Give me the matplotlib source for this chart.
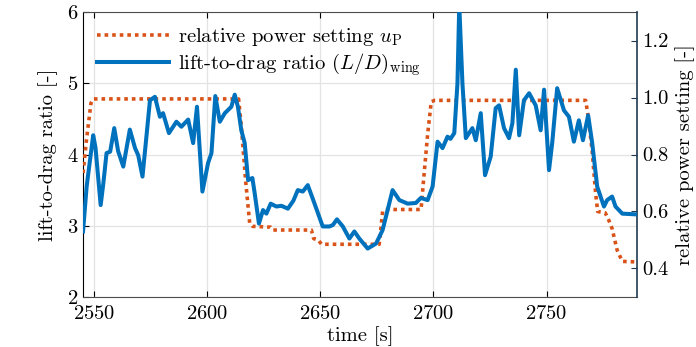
"""Lift-to-drag ratio of the wing against the relative power setting over time."""

import matplotlib

matplotlib.use("Agg")
import matplotlib.pyplot as plt

plt.rcParams["font.family"] = ["cmr10", "DejaVu Serif"]
plt.rcParams["mathtext.fontset"] = "cm"
plt.rcParams["axes.formatter.use_mathtext"] = True

BLUE = "#0072BD"
ORANGE = "#D95319"
FS = 14.8

# lift-to-drag ratio (left axis)
time_ld = [
    2545.0, 2546.6, 2548.0, 2549.5, 2550.5, 2552.8, 2554.0, 2555.4, 2557.0, 2558.8,
    2560.5, 2562.8, 2565.7, 2568.0, 2569.4, 2571.3, 2574.6, 2576.8, 2579.0, 2580.4,
    2583.0, 2586.3, 2588.5, 2591.5, 2593.7, 2595.4, 2597.8, 2600.3, 2601.8, 2603.5,
    2605.5, 2607.7, 2610.6, 2612.1, 2613.5, 2615.0, 2616.5, 2618.0, 2619.9, 2620.9,
    2622.8, 2624.6, 2626.1, 2628.0, 2630.5, 2632.7, 2635.6, 2638.0, 2640.0, 2642.2,
    2644.4, 2647.4, 2651.0, 2654.0, 2655.5, 2657.3, 2659.9, 2662.8, 2665.0, 2667.2,
    2670.9, 2674.6, 2677.5, 2679.7, 2681.9, 2684.9, 2688.6, 2692.2, 2694.4, 2697.4,
    2699.6, 2701.8, 2704.0, 2706.2, 2707.5, 2709.2, 2710.6, 2711.4, 2712.8, 2714.3,
    2717.2, 2718.7, 2720.9, 2722.8, 2725.3, 2727.5, 2729.0, 2731.2, 2733.4, 2734.9,
    2736.4, 2737.9, 2740.0, 2742.3, 2745.2, 2747.4, 2748.9, 2751.1, 2752.5, 2754.7,
    2757.7, 2759.9, 2762.1, 2764.3, 2766.1, 2768.4, 2770.2, 2772.4, 2775.4, 2776.8,
    2779.0, 2780.5, 2783.5, 2789.4, 2790.0,
]
lift_to_drag = [
    2.92, 3.55, 3.90, 4.27, 4.10, 3.29, 3.60, 4.02, 4.04, 4.37,
    4.05, 3.83, 4.35, 4.09, 3.99, 3.69, 4.76, 4.81, 4.53, 4.58,
    4.30, 4.46, 4.39, 4.49, 4.16, 4.67, 3.48, 3.88, 4.02, 4.82,
    4.46, 4.58, 4.67, 4.84, 4.67, 4.34, 4.16, 3.64, 3.67, 3.46,
    3.03, 3.22, 3.17, 3.31, 3.27, 3.28, 3.24, 3.35, 3.50, 3.48,
    3.57, 3.31, 2.99, 2.99, 3.01, 3.09, 2.99, 2.82, 2.92, 2.82,
    2.68, 2.75, 2.94, 3.22, 3.50, 3.36, 3.31, 3.32, 3.39, 3.36,
    3.55, 4.18, 4.09, 4.25, 4.22, 4.30, 5.00, 6.10, 5.00, 4.23,
    4.37, 4.20, 4.58, 3.71, 3.97, 4.65, 4.69, 4.37, 4.23, 4.44,
    5.19, 4.27, 4.76, 4.86, 4.69, 4.34, 4.91, 3.78, 4.16, 4.93,
    4.62, 4.53, 4.18, 4.48, 4.20, 4.55, 4.16, 3.55, 3.27, 3.36,
    3.41, 3.27, 3.17, 3.16, 3.16,
]

# relative power setting (right axis)
time_up = [
    2545.0, 2546.5, 2548.5, 2549.5, 2613.8, 2615.0, 2617.0, 2618.7, 2620.0, 2628.0,
    2629.0, 2646.0, 2647.0, 2649.0, 2650.5, 2676.0, 2677.5, 2678.5, 2694.5, 2695.5,
    2697.4, 2699.0, 2700.5, 2767.3, 2768.5, 2770.2, 2771.7, 2772.6, 2776.0, 2777.5,
    2779.0, 2781.2, 2783.5, 2790.0,
]
power_setting = [
    0.735, 0.85, 0.98, 0.995, 0.995, 0.90, 0.70, 0.56, 0.548, 0.545,
    0.535, 0.535, 0.505, 0.50, 0.485, 0.485, 0.60, 0.607, 0.607, 0.70,
    0.87, 0.985, 0.99, 0.99, 0.93, 0.81, 0.665, 0.60, 0.595, 0.57,
    0.54, 0.465, 0.425, 0.423,
]

x_ticks = [2550, 2600, 2650, 2700, 2750]
ld_ticks = [2, 3, 4, 5, 6]
up_ticks = [0.4, 0.6, 0.8, 1.0, 1.2]

fig = plt.figure(figsize=(6.96, 3.47), dpi=100)
ax = fig.add_axes([0.1193, 0.1441, 0.7959, 0.8213])
ax2 = ax.twinx()

ax.set_xlim(2545, 2790)
ax.set_ylim(2, 6)
ax2.set_ylim(0.3, 1.3)

# both curves live on the top axes so the grid of the left axes stays below them;
# the L/D curve keeps the left-axis scale through its transform
(up_line,) = ax2.plot(time_up, power_setting, color=ORANGE, lw=2.6,
                      linestyle=(0, (1.0, 1.1)), dash_capstyle="butt", zorder=2)
(ld_line,) = ax2.plot(time_ld, lift_to_drag, color=BLUE, lw=2.9,
                      solid_joinstyle="round", transform=ax.transData, zorder=3)
ax2.set_ylim(0.3, 1.3)

ax.set_xticks(x_ticks)
ax.set_yticks(ld_ticks)
ax2.set_yticks(up_ticks)
ax2.set_yticklabels([f"{v:.1f}" for v in up_ticks])

ax.grid(True, color="#e3e3e3", lw=0.9)
ax.set_axisbelow(True)

ax.tick_params(axis="both", direction="in", labelsize=FS, length=4,
               top=True, colors="black")
ax.tick_params(axis="x", pad=6)
ax2.tick_params(axis="y", direction="in", labelsize=FS, length=4,
                colors="#1f3a50", labelcolor="black")

ax.spines["left"].set_color("black")
ax.spines["bottom"].set_color("#4d4d4d")
ax.spines["top"].set_color("#4d4d4d")
ax.spines["right"].set_visible(False)
ax2.spines["right"].set_color("#1f3a50")
ax2.spines["right"].set_linewidth(1.2)
for side in ("left", "top", "bottom"):
    ax2.spines[side].set_visible(False)

ax.set_xlabel("time [s]", fontsize=FS, labelpad=2)
ax.set_ylabel("lift-to-drag ratio [-]", fontsize=FS, labelpad=6)
ax2.set_ylabel("relative power setting [-]", fontsize=FS, rotation=90,
               labelpad=5)

ax2.legend(
    [up_line, ld_line],
    [r"relative power setting $u_\mathrm{P}$",
     r"lift-to-drag ratio $(L/D)_\mathrm{wing}$"],
    loc="upper left",
    bbox_to_anchor=(0.0, 1.0),
    frameon=False,
    fontsize=FS,
    handlelength=3.5,
    handletextpad=0.4,
    labelspacing=0.15,
    borderaxespad=0.3,
)

fig.savefig("out.png", dpi=100)
